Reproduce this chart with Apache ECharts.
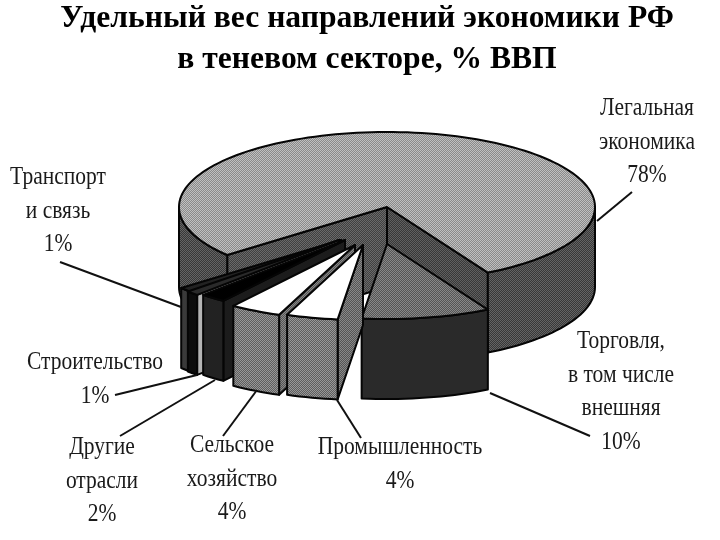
<!DOCTYPE html>
<html>
<head>
<meta charset="utf-8">
<style>
  html, body { margin: 0; padding: 0; background: #fff; }
  #chart { width: 720px; height: 540px; }
</style>
<script src="https://cdn.jsdelivr.net/npm/echarts@6/dist/echarts.min.js"></script>
</head>
<body>
<div id="chart"></div>
<script>
// values, clockwise from the right edge of the gap
const categories = ['Торговля,\nв том числе\nвнешняя', 'Промышленность', 'Сельское\nхозяйство', 'Другие\nотрасли', 'Строительство', 'Транспорт\nи связь', 'Легальная\nэкономика']
const shares = [10, 4, 4, 2, 1, 1, 78]

// layout of the squashed pie
const CX = 387, CY = 207, RX = 208, RY = 75, DEPTH = 80, START = 61
const apexShift = [[0, 37], [-24, 38], [-32, 38], [-42, 33], [-48, 33], [-46, 33], [0, 0]]
const drawOrder = [6, 0, 5, 4, 3, 2, 1]
const labelPos = [[621, 325], [400, 431], [232, 429], [102, 431], [95, 346], [58, 161], [647, 92]]
const leaders = [[[490, 393], [590, 436]], [[337, 400], [361, 438]], [[257, 390], [223, 436]], [[215, 380], [120, 436]], [[197, 375], [115, 395]], [[181, 307], [60, 262]], [[597, 221], [632, 192]]]

function dither(a, b) {
  const c = document.createElement('canvas')
  c.width = c.height = 2
  const g = c.getContext('2d')
  g.fillStyle = a
  g.fillRect(0, 0, 2, 2)
  g.fillStyle = b
  g.fillRect(0, 0, 1, 1)
  g.fillRect(1, 1, 1, 1)
  return { image: c, repeat: 'repeat' }
}

const topFill = [dither('#555', '#888'), '#fff', '#fff', '#000', '#2a2a2a', '#222', dither('#8a8a8a', '#c0c0c0')]
const wallFill = ['#2a2a2a', dither('#5e5e5e', '#989898'), dither('#5e5e5e', '#989898'), '#222', '#0c0c0c', '#3a3a3a', dither('#383838', '#646464')]
const faceFill = ['#333', dither('#555', '#888'), dither('#555', '#888'), '#1c1c1c', '#b4b4b4', '#111', dither('#404040', '#6a6a6a')]
const endFaceFill = dither('#383838', '#606060')

function rim(ax, ay, deg, drop) {
  const t = deg * Math.PI / 180
  return [ax + RX * Math.cos(t), ay + RY * Math.sin(t) + drop]
}

function arc(ax, ay, from, to, drop) {
  const pts = []
  const n = Math.max(2, Math.ceil((to - from) / 2))
  for (let i = 0; i <= n; i++) pts.push(rim(ax, ay, from + (to - from) * i / n, drop))
  return pts
}

function poly(points, fill) {
  return { type: 'polygon', shape: { points }, style: { fill, stroke: '#050505', lineWidth: 2, lineJoin: 'round' } }
}

function wall(ax, ay, from, to, fill) {
  return poly(arc(ax, ay, from, to, 0).concat(arc(ax, ay, from, to, DEPTH).reverse()), fill)
}

function face(ax, ay, deg, fill) {
  const p = rim(ax, ay, deg, 0)
  const q = rim(ax, ay, deg, DEPTH)
  return poly([[ax, ay], p, q, [ax, ay + DEPTH]], fill)
}

function renderSlice(params, api) {
  const i = params.dataIndex
  const total = shares.reduce((s, v) => s + v, 0)
  let from = START
  for (let k = 0; k < i; k++) from += shares[k] / total * 360
  const to = from + api.value(0) / total * 360
  const ax = CX + apexShift[i][0]
  const ay = CY + apexShift[i][1]
  const kids = []
  const isMain = to - from > 180
  if (isMain) {
    kids.push(face(ax, ay, from, faceFill[i]))
    kids.push(face(ax, ay, to, endFaceFill))
    kids.push(wall(ax, ay, from, 180, wallFill[i]))
    kids.push(wall(ax, ay, 360, to, wallFill[i]))
  } else {
    if (from > 90) kids.push(face(ax, ay, from, faceFill[i]))
    kids.push(wall(ax, ay, from, to, wallFill[i]))
  }
  kids.push(poly([[ax, ay]].concat(arc(ax, ay, from, to, 0)), topFill[i]))
  const z = drawOrder.indexOf(i)
  kids.forEach(el => { el.z2 = z })
  return { type: 'group', children: kids }
}

function renderLabel(params, api) {
  const i = params.dataIndex
  const [x, y] = labelPos[i]
  return {
    type: 'group',
    children: [
      { type: 'line', shape: { x1: leaders[i][0][0], y1: leaders[i][0][1], x2: leaders[i][1][0], y2: leaders[i][1][1] }, style: { stroke: '#111', lineWidth: 2 } },
      { type: 'text', x, y, scaleX: 0.86, style: { text: categories[i] + '\n' + api.value(0) + '%', x: 0, y: 0, textAlign: 'center', font: '25px "Liberation Serif"', lineHeight: 33.5, fill: '#1a1a1a' } }
    ]
  }
}

const myChart = echarts.init(document.getElementById('chart'))
myChart.setOption({
  animation: false,
  backgroundColor: '#fff',
  title: {
    text: 'Удельный вес направлений экономики РФ\nв теневом секторе, % ВВП',
    left: 362,
    top: -7,
    textAlign: 'center',
    textStyle: { fontFamily: 'Liberation Serif', fontWeight: 'bold', fontSize: 31.6, lineHeight: 41, color: '#000' }
  },
  series: [
    { type: 'custom', coordinateSystem: 'none', silent: true, renderItem: renderSlice, data: shares.map(v => [v]) },
    { type: 'custom', coordinateSystem: 'none', silent: true, z: 3, renderItem: renderLabel, data: shares.map(v => [v]) }
  ]
})
</script>
</body>
</html>
